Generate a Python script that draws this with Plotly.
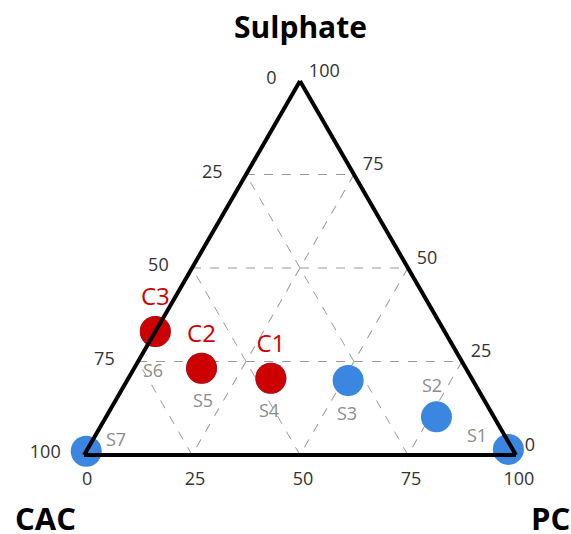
import plotly.graph_objects as go

# Composition of each mix (%): Sulphate, CAC, PC
s_names = ["S1", "S2", "S3", "S4", "S5", "S6", "S7"]
s_sulphate = [1.5, 10.2, 19.9, 20.5, 23.2, 33.0, 1.0]
s_cac = [1.0, 13.3, 28.9, 46.5, 61.2, 67.0, 99.0]
s_pc = [97.5, 76.5, 51.2, 33.0, 15.6, 0.0, 0.0]

c_names = ["C1", "C2", "C3"]
c_sulphate = [20.5, 23.2, 33.0]
c_cac = [46.5, 61.2, 67.0]
c_pc = [33.0, 15.6, 0.0]

tick_vals = [0, 25, 50, 75, 100]
tick_text_rev = ["100", "75", "50", "25", "0"]

FONT = "Open Sans"
GREY = "#8c8c8c"

# pixel offset of each S label from its marker
s_label_shift = {
    "S1": (-31, 14), "S2": (-5, 32), "S3": (-1, -32), "S4": (-2, -32),
    "S5": (1, -32), "S6": (-2, -38), "S7": (30, 12),
}

fig = go.Figure()

fig.add_trace(go.Scatterternary(
    a=s_sulphate, b=s_cac, c=s_pc,
    mode="markers",
    text=s_names,
    marker=dict(size=31, color="#3a86e0", line=dict(width=0)),
    cliponaxis=False,
    showlegend=False,
))

fig.add_trace(go.Scatterternary(
    a=c_sulphate, b=c_cac, c=c_pc,
    mode="markers+text",
    text=c_names, textposition="top center",
    textfont=dict(family=FONT, size=24, color="#d10000"),
    marker=dict(size=31, color="#cc0000", line=dict(width=0)),
    cliponaxis=False,
    showlegend=False,
))


def axis(ticklen):
    return dict(
        title=dict(text=""),
        showline=True, linecolor="black", linewidth=4,
        showgrid=True, gridcolor="#9a9a9a", griddash="dash", gridwidth=1,
        ticks="outside", ticklen=ticklen, tickcolor="rgba(0,0,0,0)",
        tickvals=tick_vals, ticktext=tick_text_rev,
        tickfont=dict(family=FONT, size=18, color="#333333"),
        min=0,
    )


annotations = [
    dict(text="<b>Sulphate</b>", x=0.5, y=1.145, xref="paper", yref="paper",
         xanchor="center", yanchor="middle", showarrow=False,
         font=dict(family=FONT, size=30, color="black")),
    dict(text="<b>CAC</b>", x=-0.09, y=-0.168, xref="paper", yref="paper",
         xanchor="center", yanchor="middle", showarrow=False,
         font=dict(family=FONT, size=31, color="black")),
    dict(text="<b>PC</b>", x=1.081, y=-0.168, xref="paper", yref="paper",
         xanchor="center", yanchor="middle", showarrow=False,
         font=dict(family=FONT, size=31, color="black")),
]

# the ternary triangle fills the plot area, so a point's paper position
# follows directly from its composition
for n, a, c in zip(s_names, s_sulphate, s_pc):
    dx, dy = s_label_shift[n]
    annotations.append(dict(
        text=n, x=(c + a / 2) / 100, y=a / 100, xref="paper", yref="paper",
        xanchor="center", yanchor="middle", xshift=dx, yshift=dy,
        showarrow=False, font=dict(family=FONT, size=18, color=GREY)))

fig.update_layout(
    width=571, height=534,
    margin=dict(l=84, r=55, t=81, b=79),
    paper_bgcolor="white",
    font=dict(family=FONT),
    ternary=dict(
        sum=100,
        bgcolor="white",
        aaxis=axis(19),
        baxis=axis(6),
        caxis=axis(9),
    ),
    annotations=annotations,
)

fig.write_html("out.html")
